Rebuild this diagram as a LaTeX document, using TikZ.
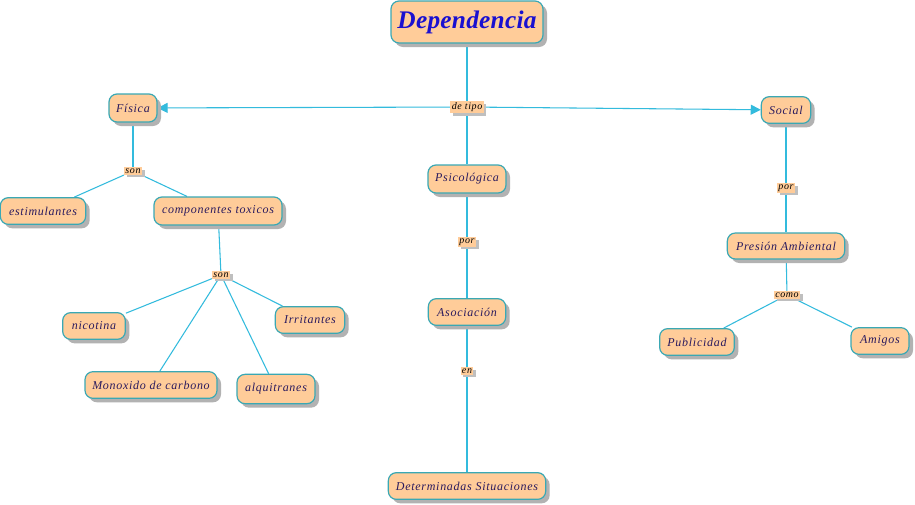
\documentclass[tikz,border=0pt]{standalone}
\usepackage{fontspec}
\setmainfont{Liberation Serif}[LetterSpace=6]
\usetikzlibrary{shadows,arrows.meta}
\pgfdeclarelayer{bg}
\pgfdeclarelayer{edges}
\pgfsetlayers{bg,edges,main}
\definecolor{peach}{HTML}{FFCC99}
\definecolor{teal2}{HTML}{3AA8B4}
\definecolor{linec}{HTML}{33BBDD}
\definecolor{txt}{HTML}{2A1A5E}
\definecolor{ttl}{HTML}{1A10D0}
\tikzset{
  concept/.style={draw=teal2, line width=0.9pt, fill=peach, rounded corners=6pt,
    drop shadow={shadow xshift=3pt, shadow yshift=-3pt, fill=black!30, opacity=1},
    font=\itshape\fontsize{9}{10}\selectfont, text=txt, inner sep=2pt},
  lbl/.style={fill=peach, inner sep=1pt,
    drop shadow={shadow xshift=2pt, shadow yshift=-2pt, fill=black!25, opacity=1},
    font=\itshape\fontsize{7.5}{8}\selectfont, text=black},
  conn/.style={draw=linec, line width=0.8pt},
  arr/.style={conn, -{Triangle[length=7.5pt,width=7.5pt]}, color=linec}
}
\begin{document}
\begin{tikzpicture}[x=0.75pt,y=-0.75pt]
\begin{pgfonlayer}{bg}
\fill[white] (0,0) rectangle (915,504);
\end{pgfonlayer}
\useasboundingbox (0,0) rectangle (915,504);
% concepts
\node[concept, minimum width=114pt, minimum height=31.5pt, font=\bfseries\itshape\fontsize{19}{21}\selectfont\addfontfeature{LetterSpace=1}, text=ttl] (dep) at (467,22) {Dependencia};
\node[concept, minimum width=36pt, minimum height=21pt] (fis) at (133,108) {Física};
\node[concept, minimum width=37pt, minimum height=20pt] (soc) at (786,110) {Social};
\node[concept, minimum width=58.5pt, minimum height=21pt] (psi) at (467,179) {Psicológica};
\node[concept, minimum width=64pt, minimum height=20pt] (est) at (43,211) {estimulantes};
\node[concept, minimum width=96pt, minimum height=21pt] (comp) at (218,211) {componentes toxicos};
\node[concept, minimum width=47pt, minimum height=20pt] (nic) at (94,326) {nicotina};
\node[concept, minimum width=52pt, minimum height=20pt] (irr) at (310,320) {Irritantes};
\node[concept, minimum width=99pt, minimum height=20pt] (mon) at (151,385) {Monoxido de carbono};
\node[concept, minimum width=58.5pt, minimum height=22pt] (alq) at (276,389) {alquitranes};
\node[concept, minimum width=58pt, minimum height=20pt] (aso) at (467,312) {Asociación};
\node[concept, minimum width=118pt, minimum height=20pt] (det) at (467,486) {Determinadas Situaciones};
\node[concept, minimum width=88pt, minimum height=19.5pt] (pre) at (786,246) {Presión Ambiental};
\node[concept, minimum width=56pt, minimum height=20pt] (pub) at (697,342) {Publicidad};
\node[concept, minimum width=43.5pt, minimum height=20pt] (ami) at (880,341) {Amigos};
% link labels
\node[lbl] (tipo) at (467,107) {de tipo};
\node[lbl] (son1) at (133,171) {son};
\node[lbl] (son2) at (221,275) {son};
\node[lbl] (por1) at (467,242) {por};
\node[lbl] (en) at (467,371) {en};
\node[lbl] (por2) at (786,188) {por};
\node[lbl] (como) at (787,295) {como};
% connectors
\begin{pgfonlayer}{edges}
\draw[conn] (dep) -- (tipo);
\draw[arr] (tipo) -- (fis);
\draw[arr] (tipo) -- (soc);
\draw[conn] (tipo) -- (psi);
\draw[conn] (fis) -- (son1);
\draw[conn] (son1) -- (est);
\draw[conn] (son1) -- (comp);
\draw[conn] (comp) -- (son2);
\draw[conn] (son2) -- (nic);
\draw[conn] (son2) -- (irr);
\draw[conn] (son2) -- (mon);
\draw[conn] (son2) -- (alq);
\draw[conn] (psi) -- (por1);
\draw[conn] (por1) -- (aso);
\draw[conn] (aso) -- (en);
\draw[conn] (en) -- (det);
\draw[conn] (soc) -- (por2);
\draw[conn] (por2) -- (pre);
\draw[conn] (pre) -- (como);
\draw[conn] (como) -- (pub);
\draw[conn] (como) -- (ami);
\end{pgfonlayer}
\end{tikzpicture}
\end{document}
